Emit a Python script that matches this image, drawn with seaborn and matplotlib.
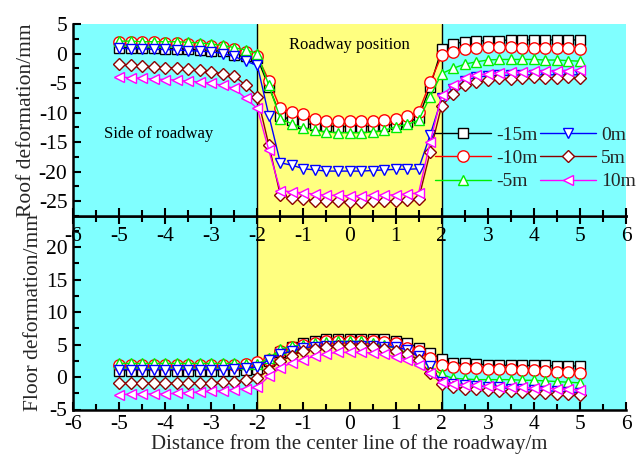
import numpy as np
import pandas as pd
import matplotlib
matplotlib.use("Agg")
import matplotlib.pyplot as plt
import seaborn as sns
from matplotlib.ticker import MultipleLocator

# ---------------- data ----------------
x = [-5.0, -4.75, -4.5, -4.25, -4.0, -3.75, -3.5, -3.25, -3.0, -2.75, -2.5, -2.25, -2.0,
     -1.75, -1.5, -1.25, -1.0, -0.75, -0.5, -0.25, 0.0, 0.25, 0.5, 0.75, 1.0, 1.25, 1.5, 1.75,
     2.0, 2.25, 2.5, 2.75, 3.0, 3.25, 3.5, 3.75, 4.0, 4.25, 4.5, 4.75, 5.0]

series_labels = ["-15m", "-10m", "-5m", "0m", "5m", "10m"]

roof_m15 = [1.0, 1.0, 0.9, 0.9, 0.8, 0.8, 0.7, 0.6, 0.5, 0.4, -0.3, -0.5, -0.8,
            -5.6, -10.5, -11.3, -11.8, -12.1, -12.3, -12.4, -12.4, -12.4, -12.3, -12.2, -12.0, -11.6, -10.9, -5.6,
            0.8, 1.6, 2.0, 2.1, 2.2, 2.2, 2.3, 2.3, 2.3, 2.3, 2.3, 2.3, 2.3]
roof_m10 = [2.0, 2.0, 1.9, 1.9, 1.8, 1.8, 1.6, 1.5, 1.3, 1.1, 0.8, 0.3, -0.4,
            -4.6, -9.3, -9.9, -10.3, -11.0, -11.4, -11.5, -11.5, -11.5, -11.5, -11.3, -11.0, -10.5, -9.9, -4.9,
            -0.3, 0.3, 0.8, 1.0, 1.1, 1.1, 1.1, 1.0, 1.0, 1.0, 0.9, 0.9, 0.8]
roof_m5 = [2.1, 2.1, 2.0, 2.0, 2.0, 2.0, 1.9, 1.8, 1.6, 1.4, 1.0, 0.6, 0.0,
           -5.4, -11.0, -11.9, -12.6, -13.0, -13.3, -13.4, -13.4, -13.4, -13.3, -13.0, -12.4, -12.0, -11.3, -7.3,
           -3.4, -2.5, -1.8, -1.4, -1.1, -1.0, -1.0, -1.0, -1.0, -1.1, -1.1, -1.2, -1.3]
roof_0 = [0.9, 0.8, 0.8, 0.7, 0.7, 0.6, 0.5, 0.4, 0.3, 0.0, -0.5, -1.3, -2.0,
          -10.5, -18.5, -18.9, -19.5, -19.7, -19.9, -19.9, -19.9, -19.9, -19.8, -19.7, -19.6, -19.6, -19.5, -13.8,
          -7.6, -6.0, -4.6, -4.0, -3.8, -3.7, -3.7, -3.6, -3.6, -3.6, -3.6, -3.6, -3.6]
roof_5 = [-1.8, -2.0, -2.1, -2.25, -2.4, -2.4, -2.7, -2.8, -3.1, -3.4, -3.8, -5.4, -7.3,
          -15.5, -24.0, -24.5, -24.7, -24.9, -25.0, -25.0, -25.1, -25.1, -25.0, -25.0, -24.9, -24.8, -24.6, -16.7,
          -8.8, -6.9, -5.3, -4.8, -4.5, -4.2, -4.3, -4.2, -4.0, -4.2, -4.2, -4.0, -4.2]
roof_10 = [-3.95, -4.1, -4.2, -4.3, -4.4, -4.5, -4.7, -4.8, -5.0, -5.4, -5.9, -7.6, -9.3,
           -16.4, -23.2, -23.4, -23.6, -23.8, -24.0, -24.0, -24.1, -24.1, -24.0, -24.0, -23.9, -23.8, -23.6, -15.0,
           -7.1, -5.4, -4.2, -3.7, -3.4, -3.3, -3.2, -3.1, -3.0, -3.0, -2.9, -2.9, -2.8]

floor_m15 = [1.0, 1.0, 1.0, 1.0, 1.0, 1.0, 1.0, 1.0, 1.0, 1.0, 1.0, 1.1, 1.3,
             2.5, 3.8, 4.7, 5.2, 5.5, 5.8, 5.9, 5.9, 5.9, 5.9, 5.8, 5.5, 5.3, 4.5, 3.7,
             2.8, 2.2, 2.1, 2.0, 1.9, 1.8, 1.8, 1.8, 1.8, 1.8, 1.7, 1.7, 1.7]
floor_m10 = [1.9, 1.9, 1.9, 1.9, 1.9, 1.9, 1.9, 1.9, 1.9, 1.9, 1.9, 2.0, 2.3,
             2.7, 4.0, 4.6, 5.0, 5.3, 5.5, 5.6, 5.6, 5.6, 5.5, 5.4, 5.3, 4.5, 4.0, 2.9,
             1.9, 1.6, 1.4, 1.4, 1.3, 1.3, 1.2, 1.1, 1.1, 1.0, 0.8, 0.8, 0.6]
floor_m5 = [2.1, 2.1, 2.1, 2.1, 2.1, 2.1, 2.1, 2.1, 2.1, 2.1, 2.1, 2.0, 2.0,
            2.9, 4.3, 4.75, 5.0, 5.3, 5.4, 5.5, 5.5, 5.5, 5.3, 4.9, 4.5, 3.7, 2.7, 1.6,
            0.4, -0.2, -0.3, -0.4, -0.4, -0.4, -0.4, -0.5, -0.5, -0.6, -0.7, -0.8, -0.9]
floor_0 = [1.15, 1.15, 1.15, 1.15, 1.15, 1.15, 1.15, 1.15, 1.15, 1.15, 1.2, 1.4, 1.5,
           2.7, 3.5, 4.0, 4.5, 4.7, 4.8, 4.8, 4.8, 4.8, 4.8, 4.7, 4.6, 4.2, 3.2, 1.7,
           -0.8, -1.1, -1.3, -1.4, -1.5, -1.6, -1.8, -1.9, -2.0, -2.1, -2.2, -2.3, -2.4]
floor_5 = [-0.93, -0.95, -0.95, -0.95, -0.95, -0.95, -0.9, -0.9, -0.85, -0.8, -0.7, -0.5, -0.2,
           1.1, 2.4, 3.3, 4.0, 4.3, 4.6, 4.75, 4.75, 4.75, 4.6, 4.3, 4.0, 3.5, 2.7, 0.6,
           -1.0, -1.5, -1.8, -1.9, -2.0, -2.1, -2.2, -2.3, -2.4, -2.5, -2.6, -2.6, -2.7]
floor_10 = [-2.7, -2.65, -2.6, -2.6, -2.6, -2.5, -2.4, -2.3, -2.2, -2.1, -1.95, -1.8, -1.55,
            0.1, 1.4, 2.2, 2.7, 3.2, 3.6, 3.8, 3.8, 3.8, 3.7, 3.5, 3.1, 2.7, 1.9, 0.6,
            -0.7, -1.0, -1.2, -1.3, -1.4, -1.5, -1.5, -1.6, -1.7, -1.7, -1.8, -1.9, -1.95]

roof_series = [roof_m15, roof_m10, roof_m5, roof_0, roof_5, roof_10]
floor_series = [floor_m15, floor_m10, floor_m5, floor_0, floor_5, floor_10]

# ---------------- style ----------------
colors = ["#000000", "#FF0000", "#00EE00", "#0000FF", "#8B0000", "#FF00FF"]
markers = ["s", "o", "^", "v", "D", "<"]
msizes = [6.8, 8.2, 7.0, 7.0, 6.0, 7.4]

sns.set_theme(style="white")
plt.rcParams["font.family"] = ["Liberation Serif", "DejaVu Serif"]

cyan = "#80FFFF"
yellow = "#FFFF80"

fig = plt.figure(figsize=(6.38, 4.59), dpi=100)
L, R = 73 / 638, 626 / 638
ax1 = fig.add_axes([L, 1 - 216 / 459, R - L, (216 - 24) / 459])
ax2 = fig.add_axes([L, 1 - 409.5 / 459, R - L, (409.5 - 216) / 459])


def draw(ax, data, with_label):
    ax.axvspan(-6, -2, color=cyan, lw=0, zorder=0)
    ax.axvspan(-2, 2, color=yellow, lw=0, zorder=0)
    ax.axvspan(2, 6, color=cyan, lw=0, zorder=0)
    ax.axvline(-2, color="black", lw=1, zorder=1)
    ax.axvline(2, color="black", lw=1, zorder=1)
    for vals, lab, c, m, ms in zip(data, series_labels, colors, markers, msizes):
        df = pd.DataFrame({"x": x, "y": vals})
        sns.lineplot(data=df, x="x", y="y", ax=ax, color=c, marker=m, ms=ms,
                     mfc="white", mec=c, mew=1.0, lw=1.0,
                     label=lab if with_label else None, legend=False, zorder=3)
    ax.set_xlim(-6, 6)
    ax.set_xticks([-6, -5, -4, -3, -2, -1, 0, 1, 2, 3, 4, 5, 6])
    ax.set_xticklabels(["-6", "-5", "-4", "-3", "-2", "-1", "0", "1", "2", "3", "4", "5", "6"])
    ax.xaxis.set_minor_locator(MultipleLocator(0.5))
    for s in ["left", "bottom", "top"]:
        ax.spines[s].set_color("black")
        ax.spines[s].set_linewidth(1.8)
    ax.spines["right"].set_visible(False)
    ax.tick_params(which="both", direction="in", colors="black", labelsize=15.5,
                   left=True, right=False, width=1.5)
    ax.tick_params(which="major", length=6)
    ax.tick_params(which="minor", length=4)
    ax.tick_params(axis="y", which="major", pad=4)


draw(ax1, roof_series, True)
draw(ax2, floor_series, False)

ax1.set_ylim(-27.5, 5)
ax1.set_yticks([-25, -20, -15, -10, -5, 0, 5])
ax1.set_yticklabels(["-25", "-20", "-15", "-10", "-5", "0", "5"])
ax1.yaxis.set_minor_locator(MultipleLocator(2.5))
ax1.spines["top"].set_visible(False)
ax1.tick_params(which="both", bottom=True, top=False, labelbottom=True)
ax1.tick_params(axis="x", which="major", pad=8)
ax1.set_xlabel("")
ax1.set_ylabel("Roof deformation/mm", fontsize=15.5, labelpad=2)

ax2.set_ylim(-5, 24.8)
ax2.set_yticks([-5, 0, 5, 10, 15, 20])
ax2.set_yticklabels(["-5", "0", "5", "10", "15", "20"])
ax2.yaxis.set_minor_locator(MultipleLocator(2.5))
ax2.tick_params(which="both", bottom=True, top=True, labeltop=False)
ax2.tick_params(axis="x", which="major", pad=4)
ax2.set_xlabel("Distance from the center line of the roadway/m", fontsize=15, labelpad=0)
ax2.set_ylabel("Floor deformation/mm", fontsize=15.5, labelpad=2)
ax1.set_zorder(3)
ax1.patch.set_visible(False)

ax1.text(0, 1.4, "Roadway position", ha="center", va="center", fontsize=12, color="black")
ax1.text(-4.15, -13.7, "Side of roadway", ha="center", va="center", fontsize=12, color="black")

leg = ax1.legend(ncol=2, loc="upper left", bbox_to_anchor=(435 / 638, 1 - 126 / 459),
                 bbox_transform=fig.transFigure, frameon=False, fontsize=14,
                 handlelength=2.9, handletextpad=0.25, columnspacing=0.1,
                 labelspacing=0.3, borderpad=0, numpoints=1, borderaxespad=0)

fig.savefig("out.png", dpi=100)
